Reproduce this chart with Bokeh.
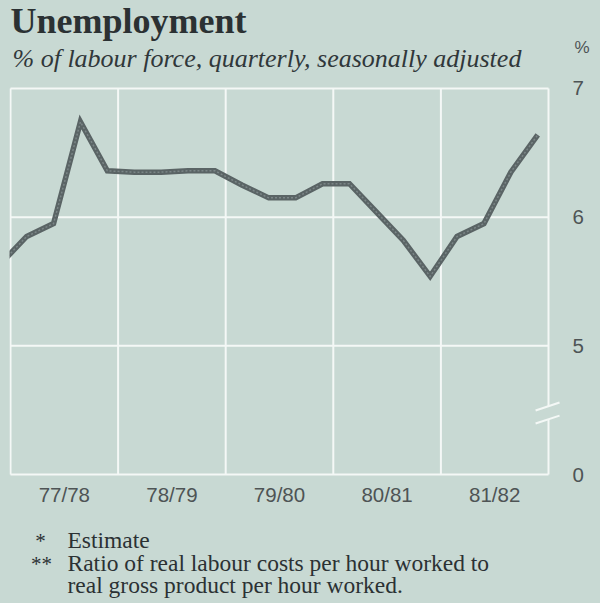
from bokeh.plotting import figure
from bokeh.layouts import column
from bokeh.models import FixedTicker, Range1d
from bokeh.core.properties import value
from bokeh.embed import file_html
from bokeh.resources import INLINE

# ---- data ----
quarters = ["Jun-77", "Sep-77", "Dec-77", "Mar-78", "Jun-78", "Sep-78", "Dec-78",
            "Mar-79", "Jun-79", "Sep-79", "Dec-79", "Mar-80", "Jun-80", "Sep-80",
            "Dec-80", "Mar-81", "Jun-81", "Sep-81", "Dec-81", "Mar-82", "Jun-82"]
unemployment = [5.63, 5.85, 5.95, 6.74, 6.36, 6.35, 6.35, 6.36, 6.36, 6.25, 6.15,
                6.15, 6.26, 6.26, 6.04, 5.82, 5.54, 5.85, 5.95, 6.35, 6.64]
years = ["77/78", "78/79", "79/80", "80/81", "81/82"]
y_ticks = [0, 5, 6, 7]

title = "Unemployment"
subtitle = "% of labour force, quarterly, seasonally adjusted"
unit = "%"
notes_marks = ["*", "**", ""]
notes = ["Estimate", "Ratio of real labour costs per hour worked to",
         "real gross product per hour worked."]

# ---- style ----
BG = "#c8d9d3"
GRID = "#f4f8f6"
LINE = "#5a6465"
TXT = "#2b3133"
AXT = "#4e5455"
W = 600
H_HEAD, H_MAIN, H_FOOT = 74, 436, 93
LEFT, RIGHT = 9, 40          # frame borders shared by all three panels
FX0, FX1 = LEFT, W - RIGHT   # frame extent in page pixels


def panel(h, top, **kw):
    f = figure(width=W, height=h, output_backend="svg", toolbar_location=None,
               x_range=Range1d(FX0, FX1), y_range=Range1d(top + h, top),
               x_axis_location=None, min_border_left=LEFT, min_border_right=RIGHT,
               min_border_top=0, min_border_bottom=0, **kw)
    f.background_fill_color = BG
    f.border_fill_color = BG
    f.outline_line_color = None
    f.xgrid.visible = False
    f.ygrid.visible = False
    return f


def axis_style(ax, size):
    ax.axis_line_color = None
    ax.major_tick_line_color = None
    ax.minor_tick_line_color = None
    ax.major_label_text_font = "Liberation Sans"
    ax.major_label_text_font_size = size
    ax.major_label_text_color = AXT


# ---- header ----
head = panel(H_HEAD, 0, y_axis_location="right")
head.text(x=[10], y=[20.5], text=[title], text_font=value("Liberation Serif"),
          text_font_style="bold", text_font_size="36px", text_color=TXT,
          text_baseline="alphabetic")
head.text(x=[12], y=[58], text=[subtitle], text_font=value("Liberation Serif"),
          text_font_style="italic", text_font_size="26px", text_color="#30373a",
          text_baseline="alphabetic")
head.yaxis.ticker = FixedTicker(ticks=[47])
head.yaxis.major_label_overrides = {47: unit}
axis_style(head.yaxis[0], "17px")
head.yaxis.major_label_standoff = 8

# ---- main chart ----
# x in quarters since start of 77/78 (July 1977); first quarter is Jun-77 (index -1)
x = [i - 1 + 0.6 for i in range(len(quarters))]
n_years = len(years)
x_end = 4 * n_years


def ypos(v):  # broken axis: 0 is drawn one unit below 5
    return v if v >= 5 else 4


p = figure(width=W, height=H_MAIN, output_backend="svg", toolbar_location=None,
           x_range=Range1d(-0.037, 20.446), y_range=Range1d(3.9845, 7.0155),
           y_axis_location="right", min_border_left=LEFT, min_border_right=RIGHT,
           min_border_top=12, min_border_bottom=H_MAIN - 12 - 390)
p.background_fill_color = BG
p.border_fill_color = BG
p.outline_line_color = None
p.xgrid.visible = False
p.ygrid.visible = False

bounds = list(range(0, x_end + 1, 4))
inner = bounds[1:-1]
p.segment(x0=inner, y0=[4] * len(inner), x1=inner, y1=[7] * len(inner),
          line_color=GRID, line_width=2)
p.segment(x0=[0, 0], y0=[5, 6], x1=[x_end, x_end], y1=[5, 6], line_color=GRID, line_width=2)
p.segment(x0=[0, 0, 0], y0=[4, 7, 4], x1=[0, x_end, x_end], y1=[7, 7, 4],
          line_color=GRID, line_width=2)
p.segment(x0=[x_end, x_end], y0=[7, 4.43], x1=[x_end, x_end], y1=[4.53, 4],
          line_color=GRID, line_width=2)
p.segment(x0=[x_end - 0.48, x_end - 0.48], y0=[4.497, 4.396], x1=[x_end + 0.41, x_end + 0.41],
          y1=[4.56, 4.458], line_color=GRID, line_width=2)

yv = [ypos(v) for v in unemployment]
p.line(x, yv, line_color=LINE, line_width=5.5, line_join="miter")
p.line(x, yv, line_color="#7b8687", line_width=1.5, line_dash="2 2", line_join="miter")

p.yaxis.ticker = FixedTicker(ticks=[ypos(v) for v in y_ticks])
p.yaxis.major_label_overrides = {ypos(v): str(v) for v in y_ticks}
p.xaxis.ticker = FixedTicker(ticks=[4 * i + 2 for i in range(n_years)])
p.xaxis.major_label_overrides = {4 * i + 2: years[i] for i in range(n_years)}
axis_style(p.xaxis[0], "20.5px")
axis_style(p.yaxis[0], "20.5px")
p.yaxis.major_label_standoff = 6
p.xaxis.major_label_standoff = 0

# ---- footer ----
top_f = H_HEAD + H_MAIN
foot = panel(H_FOOT, top_f, y_axis_location=None)
base = [539, 562, 584]
foot.text(x=[40, 41, 41], y=[b + 1 for b in base], text=notes_marks,
          text_font=value("Liberation Serif"), text_font_size="21px", text_color=TXT,
          text_align="center", text_baseline="alphabetic")
foot.text(x=[67, 67, 67], y=base, text=notes, text_font=value("Liberation Serif"),
          text_font_size="23.5px", text_color=TXT, text_baseline="alphabetic")

layout = column(head, p, foot, spacing=0)
html = file_html(layout, INLINE)
html = html.replace("<head>", "<head><style>html, body {background: %s;}</style>" % BG, 1)
open("out.html", "w").write(html)
